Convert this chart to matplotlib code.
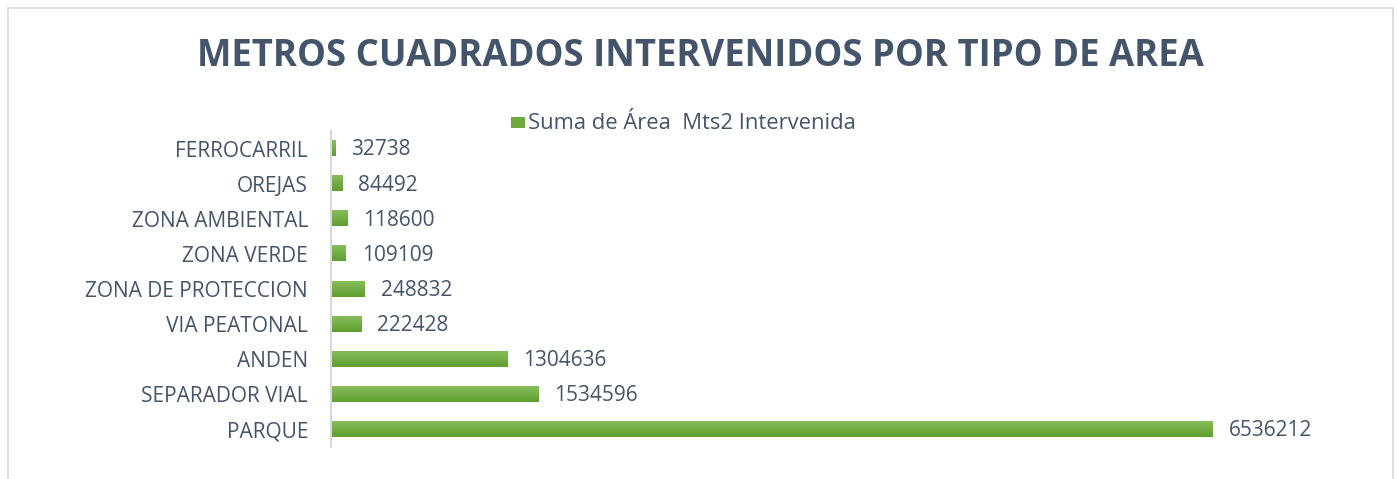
import matplotlib
matplotlib.use("Agg")
import matplotlib.pyplot as plt
import numpy as np
from matplotlib.patches import Rectangle
from matplotlib.colors import LinearSegmentedColormap

categories = ["PARQUE", "SEPARADOR VIAL", "ANDEN", "VIA PEATONAL", "ZONA DE PROTECCION",
              "ZONA VERDE", "ZONA AMBIENTAL", "OREJAS", "FERROCARRIL"]
values = [6536212, 1534596, 1304636, 222428, 248832, 109109, 118600, 84492, 32738]
series_name = "Suma de Área  Mts2 Intervenida"
title = "METROS CUADRADOS INTERVENIDOS POR TIPO DE AREA"

W, H = 1397, 479
fig = plt.figure(figsize=(W / 100, H / 100), dpi=100)
fig.patch.set_facecolor("white")

text_color = "#44546A"
font = "Open Sans"

# chart border
fig.add_artist(Rectangle((8 / W, -0.02), (1393 - 8) / W, 1 - 8 / H + 0.02,
                         transform=fig.transFigure, fill=False,
                         edgecolor="#D9D9D9", linewidth=1.2))

left_px, right_px = 331, 1340
top_px, bot_px = 131, 447
ax = fig.add_axes([left_px / W, 1 - bot_px / H, (right_px - left_px) / W, (bot_px - top_px) / H])

ypos = np.arange(len(categories))
bar_h = 0.43
bars = ax.barh(ypos, values, height=bar_h, color="#6DAA3F", zorder=2)

cmap = LinearSegmentedColormap.from_list("g", ["#5E9E2E", "#86BD5C"])
grad = np.linspace(0, 1, 64).reshape(-1, 1)
for b in bars:
    x0, y0, w, h = b.get_x(), b.get_y(), b.get_width(), b.get_height()
    ax.imshow(grad, extent=[x0, x0 + w, y0, y0 + h], origin="lower",
              cmap=cmap, aspect="auto", zorder=3, interpolation="bilinear")
    ax.annotate(f"{int(w)}", xy=(x0 + w, y0 + h / 2), xytext=(11.5, -1),
                textcoords="offset points", va="center", ha="left",
                fontsize=15, color=text_color, family=font)

xmax = 6536212 * (right_px - left_px) / (1214 - 332)
ax.set_xlim(0, xmax)
ax.set_ylim(-0.5, len(categories) - 0.5)
ax.set_yticks(ypos)
ax.set_yticklabels(categories, fontsize=15, color=text_color, family=font)
ax.tick_params(axis="y", length=0, pad=16.5)
ax.set_xticks([])
for s in ["top", "right", "bottom"]:
    ax.spines[s].set_visible(False)
ax.spines["left"].set_color("#D9D9D9")
ax.spines["left"].set_linewidth(1.5)
ax.spines["left"].set_zorder(5)

fig.text(0.5015, 1 - 56 / H, title, ha="center", va="center", fontsize=26.3,
         fontweight="bold", color=text_color, family=font)

# legend
fig.add_artist(Rectangle((511 / W, 1 - 128 / H), 14 / W, 11 / H,
                         transform=fig.transFigure, facecolor="#6DAA3F", edgecolor="none"))
fig.text(528 / W, 1 - 124 / H, series_name, ha="left", va="center", fontsize=15.8,
         color=text_color, family=font)

fig.savefig("out.png", dpi=100, facecolor="white")
